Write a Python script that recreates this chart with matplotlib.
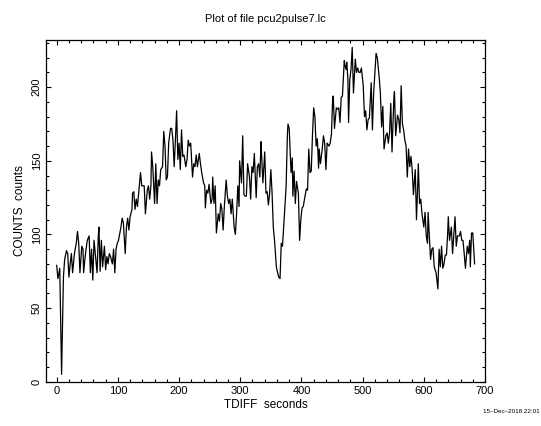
import matplotlib
matplotlib.use("Agg")
import matplotlib.pyplot as plt
from matplotlib.ticker import MultipleLocator

# light curve (time in s, counts per bin)
time_s = [
    0, 2, 5, 8, 11, 13, 16, 18, 20, 22, 24, 26, 29, 32, 34, 36, 38, 41, 43, 44,
    46, 48, 50, 53, 55, 57, 59, 61, 63, 66, 68, 69, 71, 73, 75, 78, 80, 82, 84, 86,
    88, 91, 93, 95, 97, 99, 101, 105, 107, 109,
    112, 114, 116, 118, 120, 123, 124, 126, 128, 130, 132, 135, 137, 139, 141, 143,
    145, 148, 150, 152, 154, 155, 157, 160, 162, 164, 166, 168, 170, 173, 175, 177,
    179, 181, 183, 186, 188, 190, 192, 194, 196, 198, 200, 202, 204, 206, 208, 211,
    213, 215, 217, 219, 222, 224, 226, 228, 230, 233,
    235, 237, 240, 242, 243, 245, 247, 249, 252, 254, 255, 257, 259, 261, 264, 266,
    268, 270, 272, 274, 277, 279, 281, 283, 285, 287, 290, 292, 294, 296, 298, 299,
    302, 304, 306, 308, 310, 312, 315, 317, 319, 321, 323, 326, 328, 330, 332, 334,
    335, 337, 340, 342, 344, 346, 348, 350, 352, 354,
    356, 359, 361, 363, 365, 366, 367, 369, 371, 373, 375, 377, 378, 380, 383, 385,
    386, 388, 390, 392, 395, 397, 399, 401, 403, 405, 408, 410, 412, 414, 416, 418,
    420, 422, 424, 426, 428, 429, 431, 434, 436, 438, 440, 442, 445, 447, 449, 451,
    452, 454, 457, 459, 461, 463, 465, 467, 470, 471, 473, 474, 476, 477,
    479, 481, 483, 485, 488, 490, 492, 494, 496, 498, 501, 503, 505, 507, 509, 511,
    514, 516, 518, 520, 522, 524, 527, 529, 531, 533, 535, 538, 540, 542, 544, 546,
    548, 551, 552, 554, 557, 559, 561, 563, 565, 567, 569, 571, 573, 575, 577, 579,
    581, 583, 584, 586, 588, 590, 591, 593, 595, 597, 600,
    602, 604, 606, 607, 609, 611, 613, 615, 617, 620, 623, 625, 627, 629, 631, 633,
    635, 637, 639, 640, 642, 645, 647, 649, 651, 653, 655, 658, 660, 662, 664, 666,
    668, 671, 673, 675, 676, 678, 680, 683,
]
counts = [
    79, 70, 77, 5, 71, 83, 89, 87, 71, 80, 87, 74, 87, 94, 102, 94, 74, 92, 90, 74,
    83, 90, 96, 99, 74, 90, 69, 96, 87, 74, 99, 105, 75, 96, 78, 92, 76, 85, 80, 87,
    85, 80, 90, 74, 90, 94, 96, 105, 111, 108,
    87, 105, 111, 103, 112, 117, 128, 129, 117, 124, 119, 133, 142, 133, 133, 133,
    114, 130, 133, 124, 133, 156, 146, 121, 148, 121, 137, 133, 144, 146, 170, 160,
    137, 139, 162, 172, 172, 164, 146, 164, 184, 151, 162, 144, 171, 153, 154, 146,
    151, 164, 160, 162, 139, 148, 146, 154, 146, 155,
    148, 142, 135, 133, 118, 130, 128, 134, 121, 124, 139, 121, 133, 101, 114, 109,
    121, 117, 103, 119, 137, 126, 121, 124, 114, 124, 105, 100, 114, 133, 119, 150,
    135, 167, 127, 126, 126, 148, 139, 124, 146, 142, 155, 125, 146, 148, 139, 163,
    153, 135, 156, 128, 129, 120, 128, 144, 128, 105,
    96, 78, 74, 71, 70, 83, 94, 92, 105, 119, 133, 167, 175, 172, 142, 152,
    126, 143, 121, 136, 128, 96, 110, 118, 119, 124, 131, 130, 158, 142, 143, 167,
    186, 180, 160, 165, 145, 158, 148, 158, 167, 162, 144, 162, 160, 162, 168, 192,
    194, 172, 186, 185, 186, 176, 193, 194, 218, 215, 212, 217, 205, 176,
    205, 212, 227, 196, 219, 210, 213, 210, 210, 213, 201, 180, 184, 171, 178, 179,
    203, 171, 196, 210, 223, 220, 207, 196, 173, 187, 158, 167, 169, 162, 169, 189,
    156, 192, 197, 167, 181, 178, 169, 201, 175, 171, 164, 160, 139, 158, 146, 153,
    144, 127, 133, 144, 110, 133, 148, 121, 124, 114, 105,
    115, 99, 94, 115, 99, 83, 90, 91, 78, 74, 63, 90, 78, 92, 77, 80,
    86, 86, 101, 112, 96, 105, 87, 99, 112, 92, 99, 99, 102, 96, 96, 87,
    77, 92, 87, 96, 78, 101, 101, 80,
]

plt.rcParams['font.family'] = ['Liberation Sans', 'DejaVu Sans']

fig = plt.figure(figsize=(5.41, 4.26), dpi=100)
ax = fig.add_axes([0.085, 0.104, 0.8115, 0.802])

ax.plot(time_s, counts, color='black', lw=0.9)

ax.set_xlim(-17.5, 700)
ax.set_ylim(0, 232)
ax.xaxis.set_major_locator(MultipleLocator(100))
ax.xaxis.set_minor_locator(MultipleLocator(20))
ax.yaxis.set_major_locator(MultipleLocator(50))
ax.yaxis.set_minor_locator(MultipleLocator(10))
ax.tick_params(which='both', direction='in', top=True, right=True,
               labelsize=8, width=0.8, pad=3)
ax.tick_params(which='major', length=3.6)
ax.tick_params(which='minor', length=1.9)
for lab in ax.get_yticklabels():
    lab.set_rotation(90)
    lab.set_va('center')
for s in ax.spines.values():
    s.set_linewidth(0.9)

ax.set_xlabel('TDIFF  seconds', fontsize=8.5, labelpad=2.5)
ax.set_ylabel('COUNTS  counts', fontsize=8.5, labelpad=4)
fig.text(0.49, 0.955, 'Plot of file pcu2pulse7.lc', fontsize=8, ha='center', va='center')
fig.text(0.997, 0.035, '15\u2013Dec\u20132018 22:01', fontsize=4.5, ha='right', va='center')

fig.savefig('out.png', dpi=100)
